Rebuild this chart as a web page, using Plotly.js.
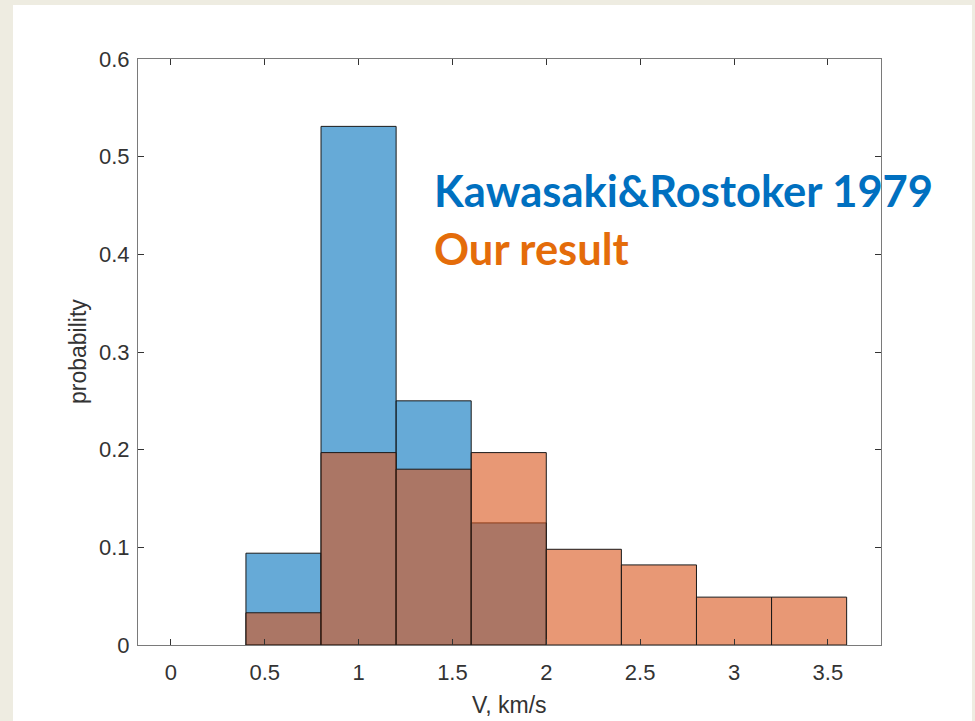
<!DOCTYPE html>
<html>
<head>
<meta charset="utf-8">
<script src="https://cdn.plot.ly/plotly-3.0.1.min.js"></script>
<style>
html,body{margin:0;padding:0;background:#eeece1;width:975px;height:721px;overflow:hidden;}
#chart{position:absolute;left:13px;top:5px;width:959px;height:716px;background:#fff;}
</style>
</head>
<body>
<div id="chart"></div>
<script>
// Bin centers (bin width 0.4 km/s)
const binCentersKR = [0.6, 1.0, 1.4, 1.8];
const probKR = [0.094, 0.531, 0.250, 0.125];
const binCentersOur = [0.6, 1.0, 1.4, 1.8, 2.2, 2.6, 3.0, 3.4];
const probOur = [0.033, 0.197, 0.180, 0.197, 0.098, 0.082, 0.049, 0.049];
const binWidth = 0.4;
const xTicks = [0, 0.5, 1, 1.5, 2, 2.5, 3, 3.5];
const xTickLabels = ['0', '0.5', '1', '1.5', '2', '2.5', '3', '3.5'];
const yTicks = [0, 0.1, 0.2, 0.3, 0.4, 0.5, 0.6];
const yTickLabels = ['0', '0.1', '0.2', '0.3', '0.4', '0.5', '0.6'];
const labelKR = 'Kawasaki&Rostoker 1979';
const labelOur = 'Our result';
const xTitle = 'V, km/s';
const yTitle = 'probability';

const traces = [
  {type:'bar', x:binCentersKR, y:probKR, width:binWidth,
   marker:{color:'rgba(0,114,189,0.6)', line:{color:'#1a1a1a', width:1}},
   hoverinfo:'skip'},
  {type:'bar', x:binCentersOur, y:probOur, width:binWidth,
   marker:{color:'rgba(217,83,25,0.6)', line:{color:'#1a1a1a', width:1}},
   hoverinfo:'skip'}
];

const axisCommon = {
  showgrid:false, zeroline:false, showline:true, linecolor:'#7a7a7a', linewidth:1,
  mirror:'ticks', ticks:'inside', ticklen:6, tickcolor:'#333', tickwidth:1,
  tickfont:{family:'Liberation Sans, Arial, sans-serif', size:22, color:'#333'}
};
const titleFont = {family:'Liberation Sans, Arial, sans-serif', size:23, color:'#333'};

const layout = {
  width:959, height:716,
  margin:{l:125, r:91, t:54, b:76},
  paper_bgcolor:'#ffffff', plot_bgcolor:'#ffffff',
  barmode:'overlay', bargap:0, showlegend:false,
  xaxis:Object.assign({}, axisCommon, {
    range:[-0.175, 3.783], tickvals:xTicks, ticktext:xTickLabels, ticklabelstandoff:8
  }),
  yaxis:Object.assign({}, axisCommon, {
    range:[0, 0.6], tickvals:yTicks, ticktext:yTickLabels, ticklabelstandoff:3
  }),
  annotations:[
    {xref:'paper', yref:'paper', x:0.5, y:0, xanchor:'center', yanchor:'middle', yshift:-60,
     showarrow:false, text:xTitle, font:titleFont},
    {xref:'paper', yref:'paper', x:0, y:0.5, xanchor:'center', yanchor:'middle', xshift:-60,
     textangle:-90, showarrow:false, text:yTitle, font:titleFont},
    {xref:'x', yref:'y', x:1.39, y:0.466, xanchor:'left', yanchor:'middle', showarrow:false,
     text:'<b>'+labelKR+'</b>', font:{family:'Lato, sans-serif', size:43.5, color:'#0070C0'}},
    {xref:'x', yref:'y', x:1.39, y:0.406, xanchor:'left', yanchor:'middle', showarrow:false,
     text:'<b>'+labelOur+'</b>', font:{family:'Lato, sans-serif', size:43.5, color:'#E46C0A'}}
  ]
};

Plotly.newPlot('chart', traces, layout, {displayModeBar:false, staticPlot:true});
</script>
</body>
</html>
